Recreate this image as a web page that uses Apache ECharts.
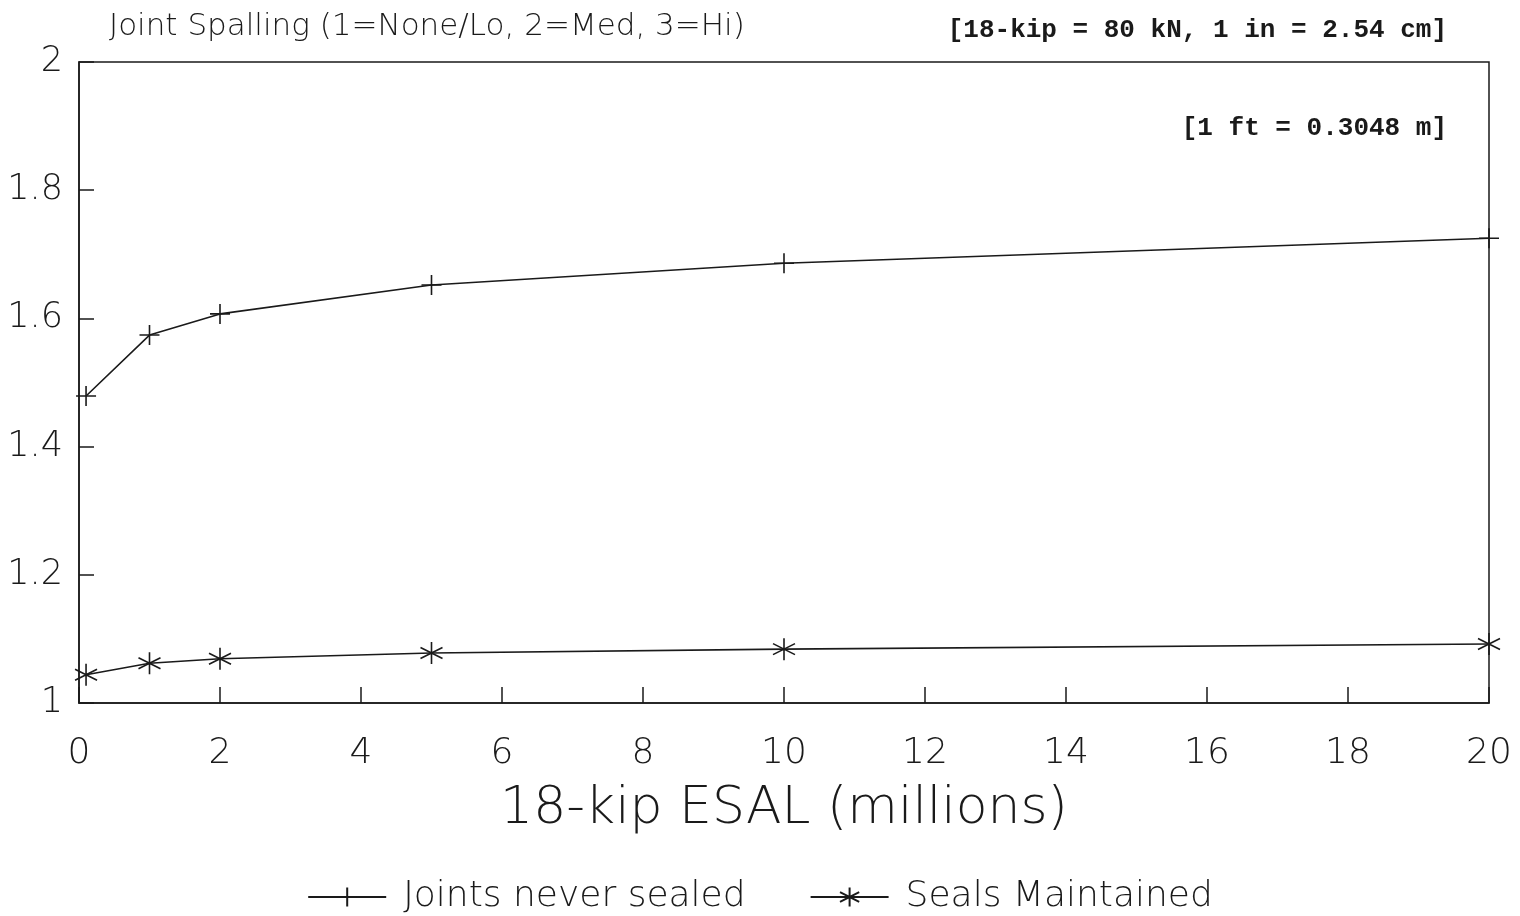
<!DOCTYPE html>
<html>
<head>
<meta charset="utf-8">
<title>Joint Spalling vs 18-kip ESAL</title>
<script src="https://cdn.jsdelivr.net/npm/echarts@6/dist/echarts.min.js"></script>
<style>
  html, body { margin: 0; padding: 0; background: #fff; }
  #chart { width: 1520px; height: 916px; }
</style>
</head>
<body>
<div id="chart"></div>
<script>
// Cumulative traffic (millions of 18-kip ESAL) at which spalling was evaluated
const esal = [0.1, 1, 2, 5, 10, 20];
// Mean joint spalling rating (1 = None/Lo, 2 = Med, 3 = Hi)
const neverSealed = [1.479, 1.574, 1.607, 1.652, 1.686, 1.725];
const sealsMaintained = [1.044, 1.062, 1.069, 1.078, 1.084, 1.092];

const seriesNames = ['Joints never sealed', 'Seals Maintained'];
const titleText = 'Joint Spalling (1=None/Lo, 2=Med, 3=Hi)';
const xAxisName = '18-kip ESAL (millions)';
const unitNotes = ['[18-kip = 80 kN, 1 in = 2.54 cm]', '[1 ft = 0.3048 m]'];

const ink = '#1a1a1a';
const sans = '"DejaVu Sans", "Liberation Sans", sans-serif';
const mono = '"Liberation Mono", "DejaVu Sans Mono", monospace';

// Stroked marker shapes: a plus and a six-armed asterisk
const plusPath = 'path://M10 0 L10 20 M0 10 L20 10';
const starPath = 'path://M10 0 L10 20 M1.3 5 L18.7 15 M1.3 15 L18.7 5';

const pairs = (ys) => esal.map((x, i) => [x, ys[i]]);

const chart = echarts.init(document.getElementById('chart'), null, { renderer: 'canvas' });

chart.setOption({
  backgroundColor: '#ffffff',
  animation: false,
  title: {
    text: titleText,
    left: 104,
    top: 6,
    textStyle: { fontFamily: sans, fontWeight: 200, fontSize: 31, color: ink }
  },
  grid: {
    left: 79, right: 31, top: 62, bottom: 213,
    show: true, borderColor: ink, borderWidth: 1.5, backgroundColor: 'transparent'
  },
  legend: {
    top: 874,
    left: 'center',
    itemGap: 64,
    itemWidth: 78,
    itemHeight: 24,
    data: seriesNames,
    textStyle: { fontFamily: sans, fontWeight: 200, fontSize: 36, color: ink, padding: [0, 0, 0, 12] }
  },
  xAxis: {
    type: 'value',
    min: 0, max: 20, interval: 2,
    name: xAxisName,
    nameLocation: 'middle',
    nameGap: 80,
    nameTextStyle: { fontFamily: sans, fontWeight: 200, fontSize: 52, color: ink },
    axisLine: { show: true, lineStyle: { color: ink, width: 1.5 } },
    axisTick: { show: true, inside: true, length: 16, lineStyle: { color: ink, width: 1.5 } },
    axisLabel: { margin: 33, fontFamily: sans, fontWeight: 200, fontSize: 36, color: ink },
    splitLine: { show: false }
  },
  yAxis: {
    type: 'value',
    min: 1, max: 2, interval: 0.2,
    axisLine: { show: true, lineStyle: { color: ink, width: 1.5 } },
    axisTick: { show: true, inside: true, length: 15, lineStyle: { color: ink, width: 1.5 } },
    axisLabel: { margin: 16, fontFamily: sans, fontWeight: 200, fontSize: 35, color: ink },
    splitLine: { show: false }
  },
  graphic: [
    {
      type: 'text', right: 73, top: 17,
      style: { text: unitNotes[0], font: 'bold 26px ' + mono, fill: ink }
    },
    {
      type: 'text', right: 73, top: 115,
      style: { text: unitNotes[1], font: 'bold 26px ' + mono, fill: ink }
    }
  ],
  series: [
    {
      name: seriesNames[0],
      type: 'line',
      data: pairs(neverSealed),
      symbol: plusPath,
      symbolSize: 20,
      showAllSymbol: true,
      lineStyle: { color: ink, width: 1.6 },
      itemStyle: { color: 'none', borderColor: ink, borderWidth: 1.6 }
    },
    {
      name: seriesNames[1],
      type: 'line',
      data: pairs(sealsMaintained),
      symbol: starPath,
      symbolSize: 22,
      showAllSymbol: true,
      lineStyle: { color: ink, width: 1.6 },
      itemStyle: { color: 'none', borderColor: ink, borderWidth: 1.6 }
    }
  ]
});
</script>
</body>
</html>
